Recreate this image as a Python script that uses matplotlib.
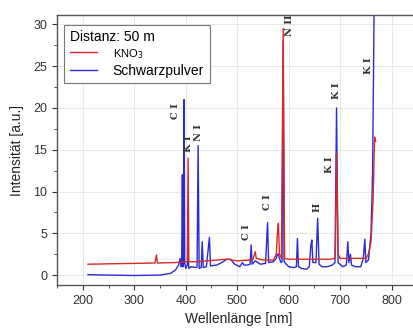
# Emissionsspektrum KNO3 vs. Schwarzpulver, Distanz 50 m

import matplotlib
matplotlib.use("Agg")
import matplotlib.pyplot as plt
from matplotlib.ticker import MultipleLocator

plt.rcParams['font.family'] = ['Liberation Sans', 'DejaVu Sans']

# Spektrum Schwarzpulver (blau)
wl_schwarz = [210, 250, 300, 350, 370, 380, 386, 389, 391, 392, 393.4, 394.5, 395.5,
              396.8, 398, 400, 403, 404.5, 406, 410, 420, 422, 424, 426, 430, 432,
              434, 440, 446, 448, 460, 470, 480, 487, 495, 505, 510, 513, 520, 525,
              527, 529, 535, 545, 555, 559, 561, 570, 576, 578, 580, 582, 585, 587,
              589.3, 591, 600, 610, 615, 617, 619, 625, 635, 640, 643, 645, 647,
              650, 653, 656.3, 659, 665, 675, 685, 690, 693, 696, 705, 712, 715,
              717, 720, 722, 730, 740, 745, 748, 750, 755, 760, 763, 766, 770]
int_schwarz = [0.05, 0.0, -0.05, 0.0, 0.2, 0.6, 1.2, 2.0, 1.0, 1.2, 12.0, 1.0, 1.2,
               21.0, 1.5, 0.8, 1.2, 2.0, 0.8, 1.0, 0.9, 1.0, 15.5, 0.8, 0.9, 4.0,
               0.9, 1.0, 4.5, 1.1, 1.2, 1.5, 1.9, 1.9, 1.3, 1.0, 1.5, 1.2, 1.2, 1.3,
               3.6, 1.3, 1.7, 1.3, 1.4, 6.3, 1.5, 1.6, 2.0, 2.5, 2.5, 2.0, 1.5, 1.6,
               28.0, 1.6, 1.0, 0.9, 1.0, 4.4, 1.0, 0.8, 0.7, 1.0, 3.5, 4.2, 1.5,
               1.5, 1.5, 6.8, 1.3, 1.0, 1.0, 1.2, 1.5, 20.0, 1.5, 1.0, 1.2, 4.0,
               1.5, 2.5, 1.2, 1.0, 1.0, 2.0, 4.3, 1.5, 1.8, 5.0, 12.0, 32.0, 33.0]

# Spektrum KNO3 (rot)
wl_kno3 = [210, 250, 300, 340, 343, 345, 380, 400, 403, 404.5, 406, 420, 440, 480,
           500, 520, 530, 535, 537, 550, 570, 576, 578, 580, 582, 586, 589.3, 592,
           600, 640, 680, 690, 691, 693, 696, 700, 720, 740, 750, 755, 760, 764,
           767, 769]
int_kno3 = [1.3, 1.35, 1.4, 1.45, 2.4, 1.45, 1.5, 1.6, 1.6, 14.0, 1.6, 1.6, 1.7, 1.9,
            1.7, 1.8, 1.8, 2.8, 2.0, 1.8, 1.8, 2.5, 5.0, 6.2, 2.5, 2.0, 29.5, 2.0,
            1.9, 1.9, 1.9, 2.0, 4.0, 14.7, 2.5, 2.0, 2.0, 2.0, 2.0, 2.5, 4.0, 9.0,
            16.5, 16.0]

# Linienbeschriftungen
linien = ['C I', 'K I', 'N I', 'N II', 'C I', 'C I', 'H', 'K I', 'K I', 'K I']
linien_x = [381, 405, 424, 601, 518, 559, 656, 680, 693, 756]
linien_y = [19.6, 15.7, 17.1, 29.9, 5.1, 8.7, 8.1, 13.2, 22.0, 25.0]

fig = plt.figure(figsize=(4.14, 3.3), dpi=100)
ax = fig.add_axes([0.138, 0.136, 0.875, 0.818])

ax.plot(wl_schwarz, int_schwarz, color='#2a2ad8', lw=1.0, label='Schwarzpulver', zorder=3)
ax.plot(wl_kno3, int_kno3, color='#d42a2a', lw=1.0, label='KNO$_3$', zorder=4)

for txt, x, y in zip(linien, linien_x, linien_y):
    ax.text(x, y, txt, rotation=90, ha='center', va='center', fontsize=7,
            family='DejaVu Serif', fontweight='bold', color='#333333', zorder=5)

ax.set_xlim(150, 854)
ax.set_ylim(-1.2, 31.1)
ax.xaxis.set_major_locator(MultipleLocator(100))
ax.xaxis.set_minor_locator(MultipleLocator(50))
ax.yaxis.set_major_locator(MultipleLocator(5))
ax.yaxis.set_minor_locator(MultipleLocator(2.5))
ax.tick_params(which='major', direction='out', length=3.5, width=0.8,
               labelsize=9, colors='#333333')
ax.tick_params(which='minor', direction='out', length=2, width=0.6, colors='#333333')
ax.grid(True, which='major', color='#e4e4e4', lw=0.6)
ax.set_axisbelow(True)
for s in ax.spines.values():
    s.set_color('#555555')
    s.set_linewidth(1.0)

ax.set_xlabel('Wellenlänge [nm]', fontsize=10, color='#222222', labelpad=4)
ax.set_ylabel('Intensität [a.u.]', fontsize=10, color='#222222', labelpad=7)

h, l = ax.get_legend_handles_labels()
leg = ax.legend(h[::-1], l[::-1], title='Distanz: 50 m', loc='upper left',
                bbox_to_anchor=(0.0, 0.99), fontsize=10, title_fontsize=10,
                alignment='left', fancybox=False, edgecolor='#777777',
                framealpha=1, handlelength=2.0, handletextpad=1.1,
                borderaxespad=0.5, labelspacing=0.2, borderpad=0.4)
leg.get_frame().set_linewidth(0.8)
leg.get_texts()[0].set_fontsize(8)

plt.savefig('out.png', dpi=100)
